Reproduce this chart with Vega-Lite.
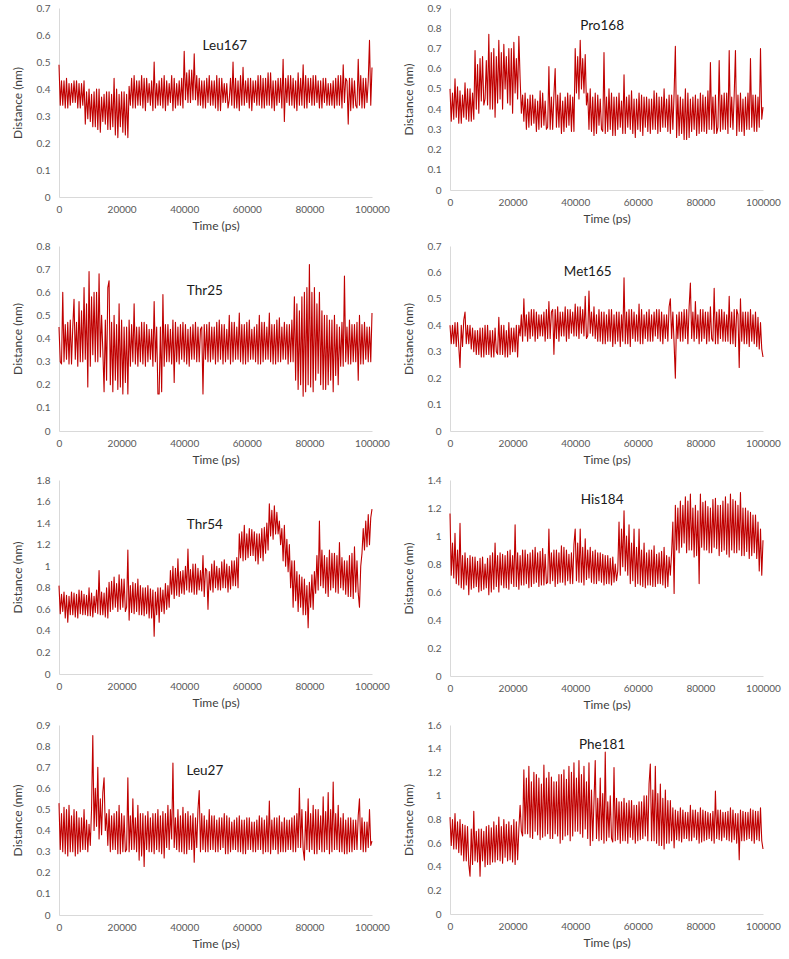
{
"$schema": "https://vega.github.io/schema/vega-lite/v6.json",
"background": "white",
"padding": {"left": 11, "top": 3, "right": 5, "bottom": 5},
"config": {
  "view": {"stroke": null},
  "font": "Lato",
  "axis": {"grid": false, "ticks": false, "domainColor": "#d9d9d9", "domainWidth": 1, "labelColor": "#595959", "labelFontSize": 10, "labelFont": "Lato", "titleColor": "#404040", "titleFontSize": 12, "titleFontWeight": "normal", "titleFont": "Lato"},
  "axisX": {"labelPadding": 7, "titlePadding": 6, "format": "d", "tickCount": 5, "labelFlush": false},
  "axisY": {"labelPadding": 9, "titlePadding": 12, "format": "~g", "labelFlush": false},
  "line": {"color": "#C00000", "strokeWidth": 1.1, "strokeJoin": "round"},
  "text": {"font": "Lato", "fontSize": 13.5, "color": "#1a1a1a"},
  "concat": {"spacing": 12}
},
"data": {"values": [
{"t":0,"L167":0.49,"P168":0.50,"T25":0.45,"M165":0.40,"T54":0.82,"H184":1.16,"L27":0.53,"F181":0.82},
{"t":400,"L167":0.34,"P168":0.34,"T25":0.30,"M165":0.33,"T54":0.56,"H184":0.72,"L27":0.31,"F181":0.58},
{"t":800,"L167":0.43,"P168":0.48,"T25":0.29,"M165":0.40,"T54":0.74,"H184":0.95,"L27":0.48,"F181":0.80},
{"t":1200,"L167":0.34,"P168":0.35,"T25":0.60,"M165":0.33,"T54":0.58,"H184":0.70,"L27":0.30,"F181":0.55},
{"t":1600,"L167":0.43,"P168":0.55,"T25":0.30,"M165":0.41,"T54":0.76,"H184":1.02,"L27":0.51,"F181":0.85},
{"t":2000,"L167":0.33,"P168":0.36,"T25":0.46,"M165":0.32,"T54":0.52,"H184":0.66,"L27":0.29,"F181":0.55},
{"t":2400,"L167":0.44,"P168":0.51,"T25":0.31,"M165":0.41,"T54":0.73,"H184":0.90,"L27":0.50,"F181":0.78},
{"t":2800,"L167":0.33,"P168":0.33,"T25":0.47,"M165":0.32,"T54":0.48,"H184":0.65,"L27":0.28,"F181":0.52},
{"t":3200,"L167":0.42,"P168":0.49,"T25":0.29,"M165":0.24,"T54":0.72,"H184":1.09,"L27":0.52,"F181":0.80},
{"t":3600,"L167":0.34,"P168":0.33,"T25":0.48,"M165":0.40,"T54":0.55,"H184":0.63,"L27":0.30,"F181":0.50},
{"t":4000,"L167":0.42,"P168":0.47,"T25":0.29,"M165":0.32,"T54":0.76,"H184":0.86,"L27":0.47,"F181":0.76},
{"t":4400,"L167":0.35,"P168":0.36,"T25":0.45,"M165":0.42,"T54":0.55,"H184":0.62,"L27":0.30,"F181":0.45},
{"t":4800,"L167":0.43,"P168":0.53,"T25":0.57,"M165":0.45,"T54":0.75,"H184":0.88,"L27":0.50,"F181":0.75},
{"t":5200,"L167":0.35,"P168":0.35,"T25":0.31,"M165":0.33,"T54":0.53,"H184":0.65,"L27":0.28,"F181":0.45},
{"t":5600,"L167":0.43,"P168":0.50,"T25":0.47,"M165":0.40,"T54":0.74,"H184":0.84,"L27":0.49,"F181":0.74},
{"t":6000,"L167":0.33,"P168":0.34,"T25":0.28,"M165":0.33,"T54":0.52,"H184":0.58,"L27":0.29,"F181":0.42},
{"t":6400,"L167":0.42,"P168":0.50,"T25":0.56,"M165":0.40,"T54":0.78,"H184":0.86,"L27":0.46,"F181":0.32},
{"t":6800,"L167":0.33,"P168":0.34,"T25":0.30,"M165":0.31,"T54":0.56,"H184":0.62,"L27":0.30,"F181":0.72},
{"t":7200,"L167":0.42,"P168":0.48,"T25":0.52,"M165":0.39,"T54":0.77,"H184":0.85,"L27":0.46,"F181":0.42},
{"t":7600,"L167":0.34,"P168":0.35,"T25":0.30,"M165":0.30,"T54":0.55,"H184":0.63,"L27":0.31,"F181":0.87},
{"t":8000,"L167":0.43,"P168":0.69,"T25":0.62,"M165":0.38,"T54":0.74,"H184":0.85,"L27":0.50,"F181":0.45},
{"t":8400,"L167":0.27,"P168":0.40,"T25":0.31,"M165":0.29,"T54":0.55,"H184":0.64,"L27":0.31,"F181":0.70},
{"t":8800,"L167":0.39,"P168":0.62,"T25":0.55,"M165":0.38,"T54":0.73,"H184":0.82,"L27":0.45,"F181":0.44},
{"t":9200,"L167":0.29,"P168":0.38,"T25":0.19,"M165":0.29,"T54":0.54,"H184":0.60,"L27":0.30,"F181":0.72},
{"t":9600,"L167":0.40,"P168":0.65,"T25":0.69,"M165":0.39,"T54":0.80,"H184":0.84,"L27":0.43,"F181":0.32},
{"t":10000,"L167":0.28,"P168":0.44,"T25":0.28,"M165":0.28,"T54":0.54,"H184":0.61,"L27":0.33,"F181":0.72},
{"t":10400,"L167":0.38,"P168":0.66,"T25":0.58,"M165":0.39,"T54":0.75,"H184":0.85,"L27":0.50,"F181":0.45},
{"t":10800,"L167":0.26,"P168":0.42,"T25":0.33,"M165":0.28,"T54":0.53,"H184":0.62,"L27":0.85,"F181":0.70},
{"t":11200,"L167":0.39,"P168":0.45,"T25":0.60,"M165":0.40,"T54":0.72,"H184":0.80,"L27":0.40,"F181":0.40},
{"t":11600,"L167":0.26,"P168":0.64,"T25":0.30,"M165":0.29,"T54":0.57,"H184":0.63,"L27":0.60,"F181":0.74},
{"t":12000,"L167":0.40,"P168":0.42,"T25":0.60,"M165":0.40,"T54":0.78,"H184":0.84,"L27":0.42,"F181":0.42},
{"t":12400,"L167":0.25,"P168":0.77,"T25":0.30,"M165":0.29,"T54":0.56,"H184":0.58,"L27":0.70,"F181":0.75},
{"t":12800,"L167":0.40,"P168":0.40,"T25":0.68,"M165":0.38,"T54":0.96,"H184":0.86,"L27":0.36,"F181":0.42},
{"t":13200,"L167":0.24,"P168":0.68,"T25":0.32,"M165":0.28,"T54":0.55,"H184":0.60,"L27":0.55,"F181":0.73},
{"t":13600,"L167":0.37,"P168":0.40,"T25":0.50,"M165":0.38,"T54":0.76,"H184":0.88,"L27":0.38,"F181":0.44},
{"t":14000,"L167":0.28,"P168":0.70,"T25":0.35,"M165":0.28,"T54":0.55,"H184":0.62,"L27":0.58,"F181":0.78},
{"t":14400,"L167":0.38,"P168":0.36,"T25":0.17,"M165":0.39,"T54":0.75,"H184":0.95,"L27":0.65,"F181":0.44},
{"t":14800,"L167":0.27,"P168":0.66,"T25":0.48,"M165":0.30,"T54":0.53,"H184":0.64,"L27":0.40,"F181":0.75},
{"t":15200,"L167":0.39,"P168":0.43,"T25":0.22,"M165":0.29,"T54":0.80,"H184":0.86,"L27":0.48,"F181":0.46},
{"t":15600,"L167":0.25,"P168":0.74,"T25":0.62,"M165":0.43,"T54":0.52,"H184":0.60,"L27":0.33,"F181":0.82},
{"t":16000,"L167":0.39,"P168":0.45,"T25":0.65,"M165":0.29,"T54":0.85,"H184":0.88,"L27":0.50,"F181":0.45},
{"t":16400,"L167":0.25,"P168":0.68,"T25":0.20,"M165":0.40,"T54":0.58,"H184":0.65,"L27":0.30,"F181":0.74},
{"t":16800,"L167":0.38,"P168":0.40,"T25":0.47,"M165":0.29,"T54":0.86,"H184":0.87,"L27":0.47,"F181":0.43},
{"t":17200,"L167":0.26,"P168":0.72,"T25":0.17,"M165":0.40,"T54":0.60,"H184":0.63,"L27":0.31,"F181":0.80},
{"t":17600,"L167":0.44,"P168":0.50,"T25":0.50,"M165":0.28,"T54":0.90,"H184":0.86,"L27":0.48,"F181":0.48},
{"t":18000,"L167":0.23,"P168":0.66,"T25":0.22,"M165":0.38,"T54":0.62,"H184":0.63,"L27":0.31,"F181":0.76},
{"t":18400,"L167":0.40,"P168":0.43,"T25":0.46,"M165":0.28,"T54":0.84,"H184":0.89,"L27":0.49,"F181":0.45},
{"t":18800,"L167":0.22,"P168":0.70,"T25":0.18,"M165":0.41,"T54":0.58,"H184":0.62,"L27":0.29,"F181":0.78},
{"t":19200,"L167":0.38,"P168":0.42,"T25":0.55,"M165":0.29,"T54":0.92,"H184":0.90,"L27":0.52,"F181":0.46},
{"t":19600,"L167":0.26,"P168":0.70,"T25":0.19,"M165":0.39,"T54":0.60,"H184":0.66,"L27":0.29,"F181":0.75},
{"t":20000,"L167":0.39,"P168":0.38,"T25":0.48,"M165":0.30,"T54":0.88,"H184":0.86,"L27":0.48,"F181":0.44},
{"t":20400,"L167":0.24,"P168":0.73,"T25":0.16,"M165":0.39,"T54":0.62,"H184":0.64,"L27":0.30,"F181":0.80},
{"t":20800,"L167":0.39,"P168":0.48,"T25":0.45,"M165":0.30,"T54":0.88,"H184":1.08,"L27":0.47,"F181":0.42},
{"t":21200,"L167":0.23,"P168":0.65,"T25":0.21,"M165":0.40,"T54":0.58,"H184":0.64,"L27":0.30,"F181":0.78},
{"t":21600,"L167":0.38,"P168":0.45,"T25":0.45,"M165":0.28,"T54":0.62,"H184":0.88,"L27":0.31,"F181":0.46},
{"t":22000,"L167":0.22,"P168":0.76,"T25":0.16,"M165":0.40,"T54":1.15,"H184":0.62,"L27":0.65,"F181":0.72},
{"t":22400,"L167":0.41,"P168":0.55,"T25":0.48,"M165":0.36,"T54":0.50,"H184":0.86,"L27":0.30,"F181":0.92},
{"t":22800,"L167":0.34,"P168":0.38,"T25":0.28,"M165":0.44,"T54":0.82,"H184":0.65,"L27":0.47,"F181":0.70},
{"t":23200,"L167":0.44,"P168":0.47,"T25":0.46,"M165":0.34,"T54":0.57,"H184":0.90,"L27":0.31,"F181":0.66},
{"t":23600,"L167":0.33,"P168":0.34,"T25":0.30,"M165":0.50,"T54":0.85,"H184":0.65,"L27":0.55,"F181":1.22},
{"t":24000,"L167":0.45,"P168":0.48,"T25":0.55,"M165":0.36,"T54":0.56,"H184":0.90,"L27":0.31,"F181":0.68},
{"t":24400,"L167":0.33,"P168":0.30,"T25":0.29,"M165":0.44,"T54":0.84,"H184":0.66,"L27":0.46,"F181":1.15},
{"t":24800,"L167":0.43,"P168":0.45,"T25":0.45,"M165":0.34,"T54":0.58,"H184":0.87,"L27":0.30,"F181":0.68},
{"t":25200,"L167":0.34,"P168":0.31,"T25":0.28,"M165":0.45,"T54":0.88,"H184":0.63,"L27":0.52,"F181":1.25},
{"t":25600,"L167":0.43,"P168":0.47,"T25":0.45,"M165":0.35,"T54":0.55,"H184":0.88,"L27":0.26,"F181":0.65},
{"t":26000,"L167":0.34,"P168":0.32,"T25":0.30,"M165":0.46,"T54":0.82,"H184":0.64,"L27":0.48,"F181":1.12},
{"t":26400,"L167":0.45,"P168":0.47,"T25":0.47,"M165":0.36,"T54":0.55,"H184":0.90,"L27":0.28,"F181":0.64},
{"t":26800,"L167":0.33,"P168":0.33,"T25":0.29,"M165":0.46,"T54":0.80,"H184":0.66,"L27":0.48,"F181":1.20},
{"t":27200,"L167":0.44,"P168":0.45,"T25":0.47,"M165":0.34,"T54":0.54,"H184":0.92,"L27":0.23,"F181":0.70},
{"t":27600,"L167":0.32,"P168":0.29,"T25":0.28,"M165":0.45,"T54":0.80,"H184":0.67,"L27":0.47,"F181":1.18},
{"t":28000,"L167":0.44,"P168":0.44,"T25":0.46,"M165":0.35,"T54":0.56,"H184":0.88,"L27":0.31,"F181":0.67},
{"t":28400,"L167":0.35,"P168":0.30,"T25":0.30,"M165":0.44,"T54":0.82,"H184":0.64,"L27":0.49,"F181":1.15},
{"t":28800,"L167":0.42,"P168":0.49,"T25":0.44,"M165":0.36,"T54":0.52,"H184":0.89,"L27":0.30,"F181":0.63},
{"t":29200,"L167":0.34,"P168":0.31,"T25":0.31,"M165":0.44,"T54":0.79,"H184":0.65,"L27":0.46,"F181":1.10},
{"t":29600,"L167":0.43,"P168":0.48,"T25":0.44,"M165":0.36,"T54":0.52,"H184":0.91,"L27":0.30,"F181":0.65},
{"t":30000,"L167":0.32,"P168":0.32,"T25":0.28,"M165":0.45,"T54":0.78,"H184":0.65,"L27":0.48,"F181":1.26},
{"t":30400,"L167":0.50,"P168":0.44,"T25":0.56,"M165":0.34,"T54":0.35,"H184":0.87,"L27":0.29,"F181":0.66},
{"t":30800,"L167":0.33,"P168":0.30,"T25":0.30,"M165":0.46,"T54":0.76,"H184":0.66,"L27":0.48,"F181":1.15},
{"t":31200,"L167":0.42,"P168":0.31,"T25":0.45,"M165":0.35,"T54":0.55,"H184":0.67,"L27":0.31,"F181":0.68},
{"t":31600,"L167":0.34,"P168":0.61,"T25":0.16,"M165":0.49,"T54":0.80,"H184":1.05,"L27":0.50,"F181":1.20},
{"t":32000,"L167":0.43,"P168":0.30,"T25":0.16,"M165":0.35,"T54":0.48,"H184":0.66,"L27":0.30,"F181":0.64},
{"t":32400,"L167":0.34,"P168":0.46,"T25":0.45,"M165":0.45,"T54":0.80,"H184":0.88,"L27":0.47,"F181":1.16},
{"t":32800,"L167":0.44,"P168":0.30,"T25":0.17,"M165":0.46,"T54":0.58,"H184":0.68,"L27":0.29,"F181":0.64},
{"t":33200,"L167":0.33,"P168":0.47,"T25":0.59,"M165":0.29,"T54":0.78,"H184":0.90,"L27":0.49,"F181":1.12},
{"t":33600,"L167":0.45,"P168":0.60,"T25":0.28,"M165":0.46,"T54":0.56,"H184":0.64,"L27":0.27,"F181":0.68},
{"t":34000,"L167":0.32,"P168":0.31,"T25":0.46,"M165":0.35,"T54":0.84,"H184":0.90,"L27":0.48,"F181":1.12},
{"t":34400,"L167":0.43,"P168":0.47,"T25":0.30,"M165":0.47,"T54":0.60,"H184":0.66,"L27":0.32,"F181":0.66},
{"t":34800,"L167":0.34,"P168":0.31,"T25":0.46,"M165":0.34,"T54":0.82,"H184":0.88,"L27":0.52,"F181":1.18},
{"t":35200,"L167":0.42,"P168":0.48,"T25":0.30,"M165":0.45,"T54":0.62,"H184":0.67,"L27":0.31,"F181":0.60},
{"t":35600,"L167":0.35,"P168":0.28,"T25":0.44,"M165":0.36,"T54":0.96,"H184":0.93,"L27":0.50,"F181":1.18},
{"t":36000,"L167":0.45,"P168":0.44,"T25":0.29,"M165":0.45,"T54":0.74,"H184":0.67,"L27":0.36,"F181":0.63},
{"t":36400,"L167":0.32,"P168":0.29,"T25":0.48,"M165":0.36,"T54":1.00,"H184":0.92,"L27":0.72,"F181":1.22},
{"t":36800,"L167":0.44,"P168":0.46,"T25":0.21,"M165":0.47,"T54":0.70,"H184":0.65,"L27":0.32,"F181":0.66},
{"t":37200,"L167":0.33,"P168":0.31,"T25":0.47,"M165":0.34,"T54":0.98,"H184":0.90,"L27":0.46,"F181":1.14},
{"t":37600,"L167":0.42,"P168":0.48,"T25":0.30,"M165":0.46,"T54":0.73,"H184":0.68,"L27":0.31,"F181":0.67},
{"t":38000,"L167":0.34,"P168":0.32,"T25":0.45,"M165":0.35,"T54":1.07,"H184":0.87,"L27":0.50,"F181":1.25},
{"t":38400,"L167":0.43,"P168":0.47,"T25":0.29,"M165":0.46,"T54":0.72,"H184":0.66,"L27":0.30,"F181":0.62},
{"t":38800,"L167":0.34,"P168":0.29,"T25":0.46,"M165":0.37,"T54":0.95,"H184":0.88,"L27":0.47,"F181":1.20},
{"t":39200,"L167":0.44,"P168":0.46,"T25":0.31,"M165":0.45,"T54":0.75,"H184":0.66,"L27":0.30,"F181":0.66},
{"t":39600,"L167":0.33,"P168":0.29,"T25":0.47,"M165":0.36,"T54":0.96,"H184":0.94,"L27":0.51,"F181":1.28},
{"t":40000,"L167":0.54,"P168":0.70,"T25":0.30,"M165":0.48,"T54":0.74,"H184":1.05,"L27":0.29,"F181":0.70},
{"t":40400,"L167":0.36,"P168":0.48,"T25":0.46,"M165":0.36,"T54":1.00,"H184":0.68,"L27":0.48,"F181":1.15},
{"t":40800,"L167":0.46,"P168":0.66,"T25":0.29,"M165":0.47,"T54":0.78,"H184":0.95,"L27":0.29,"F181":0.70},
{"t":41200,"L167":0.35,"P168":0.45,"T25":0.44,"M165":0.35,"T54":1.16,"H184":0.67,"L27":0.49,"F181":1.30},
{"t":41600,"L167":0.47,"P168":0.74,"T25":0.28,"M165":0.47,"T54":0.76,"H184":1.05,"L27":0.31,"F181":0.68},
{"t":42000,"L167":0.35,"P168":0.50,"T25":0.45,"M165":0.37,"T54":0.97,"H184":0.67,"L27":0.47,"F181":1.18},
{"t":42400,"L167":0.47,"P168":0.65,"T25":0.31,"M165":0.46,"T54":0.76,"H184":0.92,"L27":0.31,"F181":0.65},
{"t":42800,"L167":0.36,"P168":0.48,"T25":0.46,"M165":0.36,"T54":1.02,"H184":0.65,"L27":0.48,"F181":1.25},
{"t":43200,"L167":0.53,"P168":0.67,"T25":0.31,"M165":0.51,"T54":0.74,"H184":0.98,"L27":0.25,"F181":0.72},
{"t":43600,"L167":0.36,"P168":0.42,"T25":0.47,"M165":0.35,"T54":1.02,"H184":0.69,"L27":0.46,"F181":1.12},
{"t":44000,"L167":0.45,"P168":0.48,"T25":0.30,"M165":0.36,"T54":0.74,"H184":0.90,"L27":0.32,"F181":0.64},
{"t":44400,"L167":0.34,"P168":0.30,"T25":0.45,"M165":0.53,"T54":0.98,"H184":0.70,"L27":0.50,"F181":1.28},
{"t":44800,"L167":0.44,"P168":0.50,"T25":0.30,"M165":0.37,"T54":0.78,"H184":0.92,"L27":0.59,"F181":0.58},
{"t":45200,"L167":0.34,"P168":0.29,"T25":0.44,"M165":0.45,"T54":0.96,"H184":0.67,"L27":0.30,"F181":1.05},
{"t":45600,"L167":0.43,"P168":0.46,"T25":0.45,"M165":0.36,"T54":0.77,"H184":0.89,"L27":0.48,"F181":0.62},
{"t":46000,"L167":0.33,"P168":0.27,"T25":0.16,"M165":0.47,"T54":1.10,"H184":0.66,"L27":0.31,"F181":0.95},
{"t":46400,"L167":0.43,"P168":0.48,"T25":0.46,"M165":0.35,"T54":0.72,"H184":0.90,"L27":0.47,"F181":1.30},
{"t":46800,"L167":0.33,"P168":0.28,"T25":0.31,"M165":0.44,"T54":0.98,"H184":0.66,"L27":0.30,"F181":0.64},
{"t":47200,"L167":0.44,"P168":0.47,"T25":0.46,"M165":0.34,"T54":0.96,"H184":0.88,"L27":0.45,"F181":0.98},
{"t":47600,"L167":0.35,"P168":0.32,"T25":0.30,"M165":0.46,"T54":0.60,"H184":0.68,"L27":0.30,"F181":0.62},
{"t":48000,"L167":0.45,"P168":0.45,"T25":0.47,"M165":0.34,"T54":0.95,"H184":0.88,"L27":0.50,"F181":1.15},
{"t":48400,"L167":0.34,"P168":0.30,"T25":0.30,"M165":0.45,"T54":0.78,"H184":0.67,"L27":0.31,"F181":0.63},
{"t":48800,"L167":0.43,"P168":0.29,"T25":0.45,"M165":0.33,"T54":1.02,"H184":0.87,"L27":0.47,"F181":1.02},
{"t":49200,"L167":0.34,"P168":0.68,"T25":0.31,"M165":0.45,"T54":0.76,"H184":0.65,"L27":0.31,"F181":0.60},
{"t":49600,"L167":0.43,"P168":0.28,"T25":0.45,"M165":0.33,"T54":1.05,"H184":0.86,"L27":0.47,"F181":1.37},
{"t":50000,"L167":0.33,"P168":0.46,"T25":0.29,"M165":0.44,"T54":0.80,"H184":0.66,"L27":0.30,"F181":0.62},
{"t":50400,"L167":0.45,"P168":0.29,"T25":0.47,"M165":0.34,"T54":1.00,"H184":0.86,"L27":0.45,"F181":0.95},
{"t":50800,"L167":0.32,"P168":0.50,"T25":0.30,"M165":0.46,"T54":0.78,"H184":0.66,"L27":0.30,"F181":0.65},
{"t":51200,"L167":0.44,"P168":0.30,"T25":0.48,"M165":0.34,"T54":0.98,"H184":0.84,"L27":0.46,"F181":1.00},
{"t":51600,"L167":0.32,"P168":0.48,"T25":0.31,"M165":0.46,"T54":0.78,"H184":0.65,"L27":0.31,"F181":0.64},
{"t":52000,"L167":0.44,"P168":0.27,"T25":0.46,"M165":0.32,"T54":1.04,"H184":0.85,"L27":0.46,"F181":0.61},
{"t":52400,"L167":0.35,"P168":0.46,"T25":0.29,"M165":0.44,"T54":0.80,"H184":0.67,"L27":0.32,"F181":1.24},
{"t":52800,"L167":0.42,"P168":0.27,"T25":0.46,"M165":0.33,"T54":1.06,"H184":0.80,"L27":0.48,"F181":0.62},
{"t":53200,"L167":0.35,"P168":0.46,"T25":0.30,"M165":0.45,"T54":0.80,"H184":0.68,"L27":0.29,"F181":0.98},
{"t":53600,"L167":0.42,"P168":0.30,"T25":0.44,"M165":0.34,"T54":1.02,"H184":0.75,"L27":0.47,"F181":0.63},
{"t":54000,"L167":0.33,"P168":0.48,"T25":0.31,"M165":0.45,"T54":0.76,"H184":1.10,"L27":0.29,"F181":0.95},
{"t":54400,"L167":0.36,"P168":0.31,"T25":0.50,"M165":0.32,"T54":1.00,"H184":0.72,"L27":0.46,"F181":0.60},
{"t":54800,"L167":0.44,"P168":0.44,"T25":0.29,"M165":0.44,"T54":0.79,"H184":1.05,"L27":0.30,"F181":0.95},
{"t":55200,"L167":0.34,"P168":0.28,"T25":0.47,"M165":0.34,"T54":1.05,"H184":0.78,"L27":0.44,"F181":0.62},
{"t":55600,"L167":0.50,"P168":0.57,"T25":0.30,"M165":0.58,"T54":0.82,"H184":1.18,"L27":0.31,"F181":0.98},
{"t":56000,"L167":0.33,"P168":0.28,"T25":0.47,"M165":0.33,"T54":1.05,"H184":0.75,"L27":0.45,"F181":0.62},
{"t":56400,"L167":0.44,"P168":0.46,"T25":0.31,"M165":0.45,"T54":0.82,"H184":1.00,"L27":0.31,"F181":0.94},
{"t":56800,"L167":0.33,"P168":0.31,"T25":0.45,"M165":0.33,"T54":1.08,"H184":0.72,"L27":0.46,"F181":0.60},
{"t":57200,"L167":0.43,"P168":0.47,"T25":0.31,"M165":0.46,"T54":0.80,"H184":1.08,"L27":0.30,"F181":0.96},
{"t":57600,"L167":0.32,"P168":0.30,"T25":0.51,"M165":0.32,"T54":1.30,"H184":0.66,"L27":0.47,"F181":0.65},
{"t":58000,"L167":0.45,"P168":0.49,"T25":0.30,"M165":0.46,"T54":1.08,"H184":0.95,"L27":0.30,"F181":0.96},
{"t":58400,"L167":0.34,"P168":0.28,"T25":0.46,"M165":0.35,"T54":1.32,"H184":0.68,"L27":0.45,"F181":0.63},
{"t":58800,"L167":0.48,"P168":0.45,"T25":0.29,"M165":0.45,"T54":1.05,"H184":1.05,"L27":0.29,"F181":0.92},
{"t":59200,"L167":0.34,"P168":0.26,"T25":0.46,"M165":0.34,"T54":1.38,"H184":0.64,"L27":0.45,"F181":0.60},
{"t":59600,"L167":0.43,"P168":0.45,"T25":0.29,"M165":0.44,"T54":1.06,"H184":0.92,"L27":0.29,"F181":0.92},
{"t":60000,"L167":0.35,"P168":0.30,"T25":0.47,"M165":0.34,"T54":1.30,"H184":0.66,"L27":0.46,"F181":0.62},
{"t":60400,"L167":0.44,"P168":0.48,"T25":0.30,"M165":0.48,"T54":1.08,"H184":1.05,"L27":0.31,"F181":0.95},
{"t":60800,"L167":0.33,"P168":0.29,"T25":0.48,"M165":0.33,"T54":1.35,"H184":0.65,"L27":0.46,"F181":0.63},
{"t":61200,"L167":0.44,"P168":0.47,"T25":0.31,"M165":0.46,"T54":1.10,"H184":0.90,"L27":0.31,"F181":0.95},
{"t":61600,"L167":0.32,"P168":0.27,"T25":0.44,"M165":0.33,"T54":1.34,"H184":0.64,"L27":0.44,"F181":0.64},
{"t":62000,"L167":0.43,"P168":0.46,"T25":0.31,"M165":0.44,"T54":1.10,"H184":0.95,"L27":0.30,"F181":1.00},
{"t":62400,"L167":0.35,"P168":0.31,"T25":0.45,"M165":0.35,"T54":1.32,"H184":0.63,"L27":0.44,"F181":0.66},
{"t":62800,"L167":0.43,"P168":0.46,"T25":0.30,"M165":0.45,"T54":1.05,"H184":0.88,"L27":0.30,"F181":1.00},
{"t":63200,"L167":0.34,"P168":0.29,"T25":0.46,"M165":0.34,"T54":1.30,"H184":0.65,"L27":0.45,"F181":0.62},
{"t":63600,"L167":0.45,"P168":0.45,"T25":0.29,"M165":0.46,"T54":1.02,"H184":0.90,"L27":0.31,"F181":1.10},
{"t":64000,"L167":0.34,"P168":0.28,"T25":0.50,"M165":0.34,"T54":1.30,"H184":0.65,"L27":0.47,"F181":1.27},
{"t":64400,"L167":0.45,"P168":0.45,"T25":0.29,"M165":0.44,"T54":1.08,"H184":0.90,"L27":0.31,"F181":0.62},
{"t":64800,"L167":0.33,"P168":0.30,"T25":0.47,"M165":0.34,"T54":1.35,"H184":0.64,"L27":0.46,"F181":1.05},
{"t":65200,"L167":0.44,"P168":0.49,"T25":0.30,"M165":0.45,"T54":1.05,"H184":0.93,"L27":0.29,"F181":0.62},
{"t":65600,"L167":0.33,"P168":0.30,"T25":0.47,"M165":0.36,"T54":1.36,"H184":0.64,"L27":0.45,"F181":1.25},
{"t":66000,"L167":0.44,"P168":0.48,"T25":0.31,"M165":0.46,"T54":1.12,"H184":0.87,"L27":0.30,"F181":0.60},
{"t":66400,"L167":0.34,"P168":0.28,"T25":0.45,"M165":0.35,"T54":1.40,"H184":0.66,"L27":0.47,"F181":1.02},
{"t":66800,"L167":0.46,"P168":0.46,"T25":0.31,"M165":0.46,"T54":1.15,"H184":0.88,"L27":0.30,"F181":0.58},
{"t":67200,"L167":0.34,"P168":0.29,"T25":0.51,"M165":0.34,"T54":1.58,"H184":0.66,"L27":0.54,"F181":1.10},
{"t":67600,"L167":0.46,"P168":0.46,"T25":0.30,"M165":0.45,"T54":1.28,"H184":0.89,"L27":0.29,"F181":0.58},
{"t":68000,"L167":0.33,"P168":0.31,"T25":0.46,"M165":0.33,"T54":1.52,"H184":0.65,"L27":0.45,"F181":0.98},
{"t":68400,"L167":0.43,"P168":0.50,"T25":0.29,"M165":0.44,"T54":1.25,"H184":0.92,"L27":0.31,"F181":0.55},
{"t":68800,"L167":0.32,"P168":0.31,"T25":0.46,"M165":0.35,"T54":1.56,"H184":0.63,"L27":0.46,"F181":1.05},
{"t":69200,"L167":0.43,"P168":0.45,"T25":0.29,"M165":0.44,"T54":1.30,"H184":0.86,"L27":0.31,"F181":0.60},
{"t":69600,"L167":0.34,"P168":0.29,"T25":0.48,"M165":0.34,"T54":1.50,"H184":0.64,"L27":0.46,"F181":0.96},
{"t":70000,"L167":0.44,"P168":0.47,"T25":0.30,"M165":0.47,"T54":1.30,"H184":0.85,"L27":0.29,"F181":0.60},
{"t":70400,"L167":0.35,"P168":0.28,"T25":0.49,"M165":0.50,"T54":1.42,"H184":0.72,"L27":0.47,"F181":0.96},
{"t":70800,"L167":0.44,"P168":0.47,"T25":0.30,"M165":0.35,"T54":1.20,"H184":0.88,"L27":0.30,"F181":0.62},
{"t":71200,"L167":0.33,"P168":0.30,"T25":0.45,"M165":0.45,"T54":1.35,"H184":1.10,"L27":0.44,"F181":0.90},
{"t":71600,"L167":0.51,"P168":0.48,"T25":0.31,"M165":0.33,"T54":1.05,"H184":0.59,"L27":0.30,"F181":0.56},
{"t":72000,"L167":0.28,"P168":0.71,"T25":0.47,"M165":0.20,"T54":1.38,"H184":1.22,"L27":0.46,"F181":0.88},
{"t":72400,"L167":0.44,"P168":0.26,"T25":0.31,"M165":0.44,"T54":1.00,"H184":0.90,"L27":0.30,"F181":0.63},
{"t":72800,"L167":0.35,"P168":0.47,"T25":0.46,"M165":0.35,"T54":1.25,"H184":1.20,"L27":0.45,"F181":0.87},
{"t":73200,"L167":0.45,"P168":0.27,"T25":0.29,"M165":0.45,"T54":0.95,"H184":0.88,"L27":0.31,"F181":0.62},
{"t":73600,"L167":0.34,"P168":0.46,"T25":0.46,"M165":0.34,"T54":1.20,"H184":1.25,"L27":0.45,"F181":0.90},
{"t":74000,"L167":0.45,"P168":0.28,"T25":0.30,"M165":0.45,"T54":0.80,"H184":0.92,"L27":0.31,"F181":0.61},
{"t":74400,"L167":0.34,"P168":0.45,"T25":0.48,"M165":0.34,"T54":1.05,"H184":1.22,"L27":0.46,"F181":0.88},
{"t":74800,"L167":0.44,"P168":0.25,"T25":0.30,"M165":0.46,"T54":0.62,"H184":0.95,"L27":0.30,"F181":0.64},
{"t":75200,"L167":0.33,"P168":0.50,"T25":0.58,"M165":0.35,"T54":1.05,"H184":1.28,"L27":0.47,"F181":0.86},
{"t":75600,"L167":0.43,"P168":0.25,"T25":0.22,"M165":0.46,"T54":0.68,"H184":0.88,"L27":0.30,"F181":0.64},
{"t":76000,"L167":0.32,"P168":0.48,"T25":0.55,"M165":0.33,"T54":0.95,"H184":1.25,"L27":0.48,"F181":0.86},
{"t":76400,"L167":0.46,"P168":0.26,"T25":0.18,"M165":0.47,"T54":0.58,"H184":0.90,"L27":0.32,"F181":0.62},
{"t":76800,"L167":0.34,"P168":0.45,"T25":0.52,"M165":0.56,"T54":0.92,"H184":1.30,"L27":0.60,"F181":0.92},
{"t":77200,"L167":0.44,"P168":0.29,"T25":0.20,"M165":0.35,"T54":0.62,"H184":0.90,"L27":0.32,"F181":0.62},
{"t":77600,"L167":0.34,"P168":0.46,"T25":0.58,"M165":0.45,"T54":0.90,"H184":1.20,"L27":0.50,"F181":0.88},
{"t":78000,"L167":0.49,"P168":0.30,"T25":0.15,"M165":0.34,"T54":0.55,"H184":0.85,"L27":0.31,"F181":0.65},
{"t":78400,"L167":0.33,"P168":0.47,"T25":0.60,"M165":0.49,"T54":0.88,"H184":1.22,"L27":0.26,"F181":0.88},
{"t":78800,"L167":0.45,"P168":0.27,"T25":0.17,"M165":0.35,"T54":0.55,"H184":0.86,"L27":0.49,"F181":0.63},
{"t":79200,"L167":0.33,"P168":0.45,"T25":0.62,"M165":0.44,"T54":0.82,"H184":1.18,"L27":0.31,"F181":0.86},
{"t":79600,"L167":0.44,"P168":0.28,"T25":0.20,"M165":0.33,"T54":0.43,"H184":0.66,"L27":0.55,"F181":0.60},
{"t":80000,"L167":0.35,"P168":0.48,"T25":0.72,"M165":0.46,"T54":0.85,"H184":1.30,"L27":0.30,"F181":0.90},
{"t":80400,"L167":0.44,"P168":0.29,"T25":0.19,"M165":0.34,"T54":0.62,"H184":0.92,"L27":0.48,"F181":0.61},
{"t":80800,"L167":0.34,"P168":0.47,"T25":0.60,"M165":0.46,"T54":0.92,"H184":1.24,"L27":0.31,"F181":0.88},
{"t":81200,"L167":0.45,"P168":0.29,"T25":0.17,"M165":0.35,"T54":0.60,"H184":0.90,"L27":0.52,"F181":0.62},
{"t":81600,"L167":0.34,"P168":0.46,"T25":0.62,"M165":0.45,"T54":0.95,"H184":1.25,"L27":0.29,"F181":0.87},
{"t":82000,"L167":0.45,"P168":0.28,"T25":0.22,"M165":0.33,"T54":0.75,"H184":0.90,"L27":0.50,"F181":0.63},
{"t":82400,"L167":0.35,"P168":0.49,"T25":0.55,"M165":0.45,"T54":1.10,"H184":1.21,"L27":0.29,"F181":0.86},
{"t":82800,"L167":0.43,"P168":0.30,"T25":0.25,"M165":0.34,"T54":0.78,"H184":0.88,"L27":0.50,"F181":0.64},
{"t":83200,"L167":0.33,"P168":0.63,"T25":0.60,"M165":0.47,"T54":1.42,"H184":1.20,"L27":0.31,"F181":0.85},
{"t":83600,"L167":0.43,"P168":0.30,"T25":0.20,"M165":0.35,"T54":0.82,"H184":0.88,"L27":0.47,"F181":0.62},
{"t":84000,"L167":0.33,"P168":0.46,"T25":0.52,"M165":0.34,"T54":1.15,"H184":1.26,"L27":0.30,"F181":0.87},
{"t":84400,"L167":0.44,"P168":0.28,"T25":0.18,"M165":0.54,"T54":0.80,"H184":0.92,"L27":0.56,"F181":0.60},
{"t":84800,"L167":0.35,"P168":0.47,"T25":0.50,"M165":0.33,"T54":1.10,"H184":1.27,"L27":0.30,"F181":1.04},
{"t":85200,"L167":0.44,"P168":0.28,"T25":0.18,"M165":0.45,"T54":0.75,"H184":0.91,"L27":0.49,"F181":0.64},
{"t":85600,"L167":0.34,"P168":0.31,"T25":0.50,"M165":0.33,"T54":1.08,"H184":1.22,"L27":0.31,"F181":0.88},
{"t":86000,"L167":0.42,"P168":0.64,"T25":0.20,"M165":0.46,"T54":0.72,"H184":0.86,"L27":0.58,"F181":0.63},
{"t":86400,"L167":0.34,"P168":0.29,"T25":0.48,"M165":0.35,"T54":1.15,"H184":1.22,"L27":0.29,"F181":0.88},
{"t":86800,"L167":0.42,"P168":0.47,"T25":0.22,"M165":0.46,"T54":0.78,"H184":0.89,"L27":0.50,"F181":0.62},
{"t":87200,"L167":0.34,"P168":0.30,"T25":0.48,"M165":0.34,"T54":1.12,"H184":1.25,"L27":0.30,"F181":0.86},
{"t":87600,"L167":0.43,"P168":0.48,"T25":0.17,"M165":0.45,"T54":0.80,"H184":0.90,"L27":0.63,"F181":0.65},
{"t":88000,"L167":0.33,"P168":0.30,"T25":0.50,"M165":0.34,"T54":1.12,"H184":1.28,"L27":0.31,"F181":0.86},
{"t":88400,"L167":0.44,"P168":0.48,"T25":0.24,"M165":0.44,"T54":0.76,"H184":0.87,"L27":0.48,"F181":0.63},
{"t":88800,"L167":0.34,"P168":0.28,"T25":0.46,"M165":0.34,"T54":1.10,"H184":1.23,"L27":0.31,"F181":0.87},
{"t":89200,"L167":0.45,"P168":0.69,"T25":0.20,"M165":0.51,"T54":0.75,"H184":0.85,"L27":0.52,"F181":0.62},
{"t":89600,"L167":0.34,"P168":0.31,"T25":0.45,"M165":0.33,"T54":1.22,"H184":1.30,"L27":0.30,"F181":0.90},
{"t":90000,"L167":0.45,"P168":0.46,"T25":0.28,"M165":0.45,"T54":0.80,"H184":0.90,"L27":0.46,"F181":0.61},
{"t":90400,"L167":0.33,"P168":0.30,"T25":0.47,"M165":0.33,"T54":1.08,"H184":1.26,"L27":0.30,"F181":0.88},
{"t":90800,"L167":0.49,"P168":0.47,"T25":0.28,"M165":0.46,"T54":0.78,"H184":0.88,"L27":0.48,"F181":0.63},
{"t":91200,"L167":0.35,"P168":0.69,"T25":0.67,"M165":0.32,"T54":1.05,"H184":1.25,"L27":0.29,"F181":0.85},
{"t":91600,"L167":0.44,"P168":0.27,"T25":0.30,"M165":0.46,"T54":0.74,"H184":0.88,"L27":0.45,"F181":0.60},
{"t":92000,"L167":0.43,"P168":0.47,"T25":0.45,"M165":0.44,"T54":1.05,"H184":1.22,"L27":0.29,"F181":0.85},
{"t":92400,"L167":0.27,"P168":0.29,"T25":0.29,"M165":0.24,"T54":0.72,"H184":0.90,"L27":0.46,"F181":0.46},
{"t":92800,"L167":0.44,"P168":0.48,"T25":0.48,"M165":0.50,"T54":1.10,"H184":1.31,"L27":0.30,"F181":0.88},
{"t":93200,"L167":0.32,"P168":0.29,"T25":0.29,"M165":0.34,"T54":0.72,"H184":0.86,"L27":0.46,"F181":0.62},
{"t":93600,"L167":0.44,"P168":0.45,"T25":0.46,"M165":0.45,"T54":1.12,"H184":1.20,"L27":0.30,"F181":0.87},
{"t":94000,"L167":0.33,"P168":0.27,"T25":0.30,"M165":0.33,"T54":0.70,"H184":0.86,"L27":0.45,"F181":0.62},
{"t":94400,"L167":0.43,"P168":0.46,"T25":0.46,"M165":0.45,"T54":1.18,"H184":1.20,"L27":0.31,"F181":0.86},
{"t":94800,"L167":0.34,"P168":0.30,"T25":0.30,"M165":0.33,"T54":0.76,"H184":0.89,"L27":0.45,"F181":0.63},
{"t":95200,"L167":0.33,"P168":0.48,"T25":0.47,"M165":0.45,"T54":1.05,"H184":1.18,"L27":0.31,"F181":0.86},
{"t":95600,"L167":0.51,"P168":0.30,"T25":0.22,"M165":0.32,"T54":0.75,"H184":0.84,"L27":0.47,"F181":0.64},
{"t":96000,"L167":0.34,"P168":0.65,"T25":0.50,"M165":0.46,"T54":0.62,"H184":1.17,"L27":0.55,"F181":0.89},
{"t":96400,"L167":0.45,"P168":0.31,"T25":0.29,"M165":0.34,"T54":1.00,"H184":0.86,"L27":0.31,"F181":0.62},
{"t":96800,"L167":0.33,"P168":0.47,"T25":0.46,"M165":0.44,"T54":1.12,"H184":1.15,"L27":0.46,"F181":0.88},
{"t":97200,"L167":0.44,"P168":0.29,"T25":0.29,"M165":0.33,"T54":1.35,"H184":0.88,"L27":0.30,"F181":0.60},
{"t":97600,"L167":0.33,"P168":0.47,"T25":0.47,"M165":0.45,"T54":1.15,"H184":1.15,"L27":0.44,"F181":0.87},
{"t":98000,"L167":0.44,"P168":0.29,"T25":0.31,"M165":0.32,"T54":1.42,"H184":0.84,"L27":0.30,"F181":0.63},
{"t":98400,"L167":0.35,"P168":0.46,"T25":0.45,"M165":0.43,"T54":1.18,"H184":1.10,"L27":0.44,"F181":0.87},
{"t":98800,"L167":0.43,"P168":0.31,"T25":0.30,"M165":0.31,"T54":1.48,"H184":0.75,"L27":0.32,"F181":0.62},
{"t":99200,"L167":0.58,"P168":0.70,"T25":0.45,"M165":0.41,"T54":1.20,"H184":1.05,"L27":0.50,"F181":0.90},
{"t":99600,"L167":0.34,"P168":0.35,"T25":0.30,"M165":0.31,"T54":1.45,"H184":0.72,"L27":0.33,"F181":0.62},
{"t":100000,"L167":0.48,"P168":0.41,"T25":0.51,"M165":0.28,"T54":1.53,"H184":0.97,"L27":0.35,"F181":0.55}
]},
"vconcat": [
 {"hconcat": [
  {"width": 313, "height": 189, "layer": [
   {"mark": "line", "encoding": {"x": {"field": "t", "type": "quantitative", "title": "Time (ps)", "scale": {"domain": [0, 100000], "nice": false}}, "y": {"field": "L167", "type": "quantitative", "title": "Distance (nm)", "scale": {"domain": [0, 0.7], "nice": false}, "axis": {"tickCount": 7}}}},
   {"data": {"values": [{"label": "Leu167"}]}, "mark": "text", "encoding": {"x": {"datum": 53000, "type": "quantitative", "title": "Time (ps)"}, "y": {"datum": 0.56, "type": "quantitative", "title": "Distance (nm)"}, "text": {"field": "label"}}}
  ]},
  {"width": 313, "height": 182, "layer": [
   {"mark": "line", "encoding": {"x": {"field": "t", "type": "quantitative", "title": "Time (ps)", "scale": {"domain": [0, 100000], "nice": false}}, "y": {"field": "P168", "type": "quantitative", "title": "Distance (nm)", "scale": {"domain": [0, 0.9], "nice": false}, "axis": {"tickCount": 9}}}},
   {"data": {"values": [{"label": "Pro168"}]}, "mark": "text", "encoding": {"x": {"datum": 48600, "type": "quantitative", "title": "Time (ps)"}, "y": {"datum": 0.81, "type": "quantitative", "title": "Distance (nm)"}, "text": {"field": "label"}}}
  ]}
 ]},
 {"hconcat": [
  {"width": 313, "height": 185, "layer": [
   {"mark": "line", "encoding": {"x": {"field": "t", "type": "quantitative", "title": "Time (ps)", "scale": {"domain": [0, 100000], "nice": false}}, "y": {"field": "T25", "type": "quantitative", "title": "Distance (nm)", "scale": {"domain": [0, 0.8], "nice": false}, "axis": {"tickCount": 8}}}},
   {"data": {"values": [{"label": "Thr25"}]}, "mark": "text", "encoding": {"x": {"datum": 46600, "type": "quantitative", "title": "Time (ps)"}, "y": {"datum": 0.605, "type": "quantitative", "title": "Distance (nm)"}, "text": {"field": "label"}}}
  ]},
  {"width": 313, "height": 185, "layer": [
   {"mark": "line", "encoding": {"x": {"field": "t", "type": "quantitative", "title": "Time (ps)", "scale": {"domain": [0, 100000], "nice": false}}, "y": {"field": "M165", "type": "quantitative", "title": "Distance (nm)", "scale": {"domain": [0, 0.7], "nice": false}, "axis": {"tickCount": 7}}}},
   {"data": {"values": [{"label": "Met165"}]}, "mark": "text", "encoding": {"x": {"datum": 44000, "type": "quantitative", "title": "Time (ps)"}, "y": {"datum": 0.6, "type": "quantitative", "title": "Distance (nm)"}, "text": {"field": "label"}}}
  ]}
 ]},
 {"hconcat": [
  {"width": 313, "height": 194, "layer": [
   {"mark": "line", "encoding": {"x": {"field": "t", "type": "quantitative", "title": "Time (ps)", "scale": {"domain": [0, 100000], "nice": false}}, "y": {"field": "T54", "type": "quantitative", "title": "Distance (nm)", "scale": {"domain": [0, 1.8], "nice": false}, "axis": {"tickCount": 9}}}},
   {"data": {"values": [{"label": "Thr54"}]}, "mark": "text", "encoding": {"x": {"datum": 46600, "type": "quantitative", "title": "Time (ps)"}, "y": {"datum": 1.38, "type": "quantitative", "title": "Distance (nm)"}, "text": {"field": "label"}}}
  ]},
  {"width": 313, "height": 196, "layer": [
   {"mark": "line", "encoding": {"x": {"field": "t", "type": "quantitative", "title": "Time (ps)", "scale": {"domain": [0, 100000], "nice": false}}, "y": {"field": "H184", "type": "quantitative", "title": "Distance (nm)", "scale": {"domain": [0, 1.4], "nice": false}, "axis": {"tickCount": 7}}}},
   {"data": {"values": [{"label": "His184"}]}, "mark": "text", "encoding": {"x": {"datum": 48600, "type": "quantitative", "title": "Time (ps)"}, "y": {"datum": 1.256, "type": "quantitative", "title": "Distance (nm)"}, "text": {"field": "label"}}}
  ]}
 ]},
 {"hconcat": [
  {"width": 313, "height": 190, "layer": [
   {"mark": "line", "encoding": {"x": {"field": "t", "type": "quantitative", "title": "Time (ps)", "scale": {"domain": [0, 100000], "nice": false}}, "y": {"field": "L27", "type": "quantitative", "title": "Distance (nm)", "scale": {"domain": [0, 0.9], "nice": false}, "axis": {"tickCount": 9}}}},
   {"data": {"values": [{"label": "Leu27"}]}, "mark": "text", "encoding": {"x": {"datum": 46600, "type": "quantitative", "title": "Time (ps)"}, "y": {"datum": 0.68, "type": "quantitative", "title": "Distance (nm)"}, "text": {"field": "label"}}}
  ]},
  {"width": 313, "height": 189, "layer": [
   {"mark": "line", "encoding": {"x": {"field": "t", "type": "quantitative", "title": "Time (ps)", "scale": {"domain": [0, 100000], "nice": false}}, "y": {"field": "F181", "type": "quantitative", "title": "Distance (nm)", "scale": {"domain": [0, 1.6], "nice": false}, "axis": {"tickCount": 8}}}},
   {"data": {"values": [{"label": "Phe181"}]}, "mark": "text", "encoding": {"x": {"datum": 48600, "type": "quantitative", "title": "Time (ps)"}, "y": {"datum": 1.43, "type": "quantitative", "title": "Distance (nm)"}, "text": {"field": "label"}}}
  ]}
 ]}
],
"spacing": 10
}
